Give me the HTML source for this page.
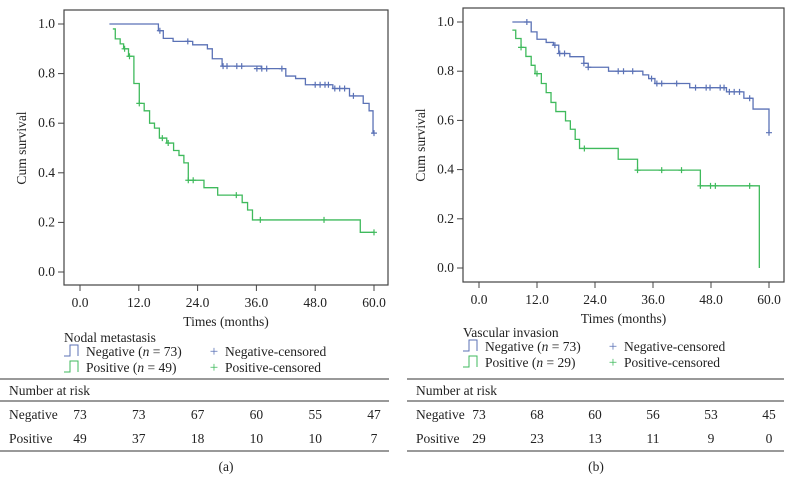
<!DOCTYPE html>
<html><head><meta charset="utf-8"><style>
body{margin:0;background:#fff}
svg{display:block;font-family:"Liberation Serif",serif}
text{fill:#222;font-size:13.5px}
</style></head><body>
<svg id="svg" width="793" height="495" viewBox="0 0 793 495">
<g id="ga"></g>
<g id="gb"></g>
</svg>
<script>
// Panel (a) data
const aNegSteps=[[6,1.0],[16,0.973],[17,0.942],[19,0.93],[23,0.916],[26,0.90],[27,0.86],[29,0.83],[37,0.82],[42,0.79],[44,0.78],[46,0.755],[51.6,0.74],[55,0.71],[57.8,0.68],[59,0.65],[59.8,0.56]];
const aNegCens=[[16.3,0.973],[22,0.93],[29.2,0.83],[30,0.83],[32,0.83],[33,0.83],[36.1,0.82],[37.1,0.82],[38.1,0.82],[41.2,0.82],[48,0.755],[49,0.755],[50,0.755],[50.7,0.755],[52,0.74],[53,0.74],[54,0.74],[55.8,0.71],[60,0.56]];
const aPosSteps=[[6.7,0.98],[7.2,0.94],[8.2,0.92],[8.9,0.90],[9.9,0.87],[11,0.76],[12.1,0.68],[13.1,0.65],[14.2,0.60],[15.2,0.58],[16.2,0.54],[17.7,0.52],[19.1,0.49],[20.2,0.47],[21.2,0.44],[22.1,0.37],[25.3,0.34],[28.1,0.31],[33.1,0.28],[34.2,0.25],[35.2,0.21],[57.2,0.16]];
const aPosCens=[[9.1,0.90],[10.1,0.87],[12.1,0.68],[16.8,0.54],[18,0.52],[22.1,0.37],[23.1,0.37],[31.9,0.31],[36.8,0.21],[49.8,0.21],[60,0.16]];
const aRiskNeg=[73,73,67,60,55,47];
const aRiskPos=[49,37,18,10,10,7];
// Panel (b) data
const bNegSteps=[[6.9,1.0],[10.8,0.96],[12,0.93],[13.9,0.917],[15.4,0.906],[16.5,0.872],[18.8,0.859],[21.7,0.832],[22.6,0.816],[26.8,0.80],[33.9,0.785],[35.1,0.77],[36.4,0.75],[43.6,0.733],[51.2,0.716],[54.8,0.69],[56.7,0.646],[60,0.55]];
const bNegCens=[[9.9,1.0],[15.7,0.906],[16.7,0.872],[17.7,0.872],[21.7,0.832],[22.6,0.816],[28.8,0.80],[29.9,0.80],[31.8,0.80],[35.7,0.77],[36.8,0.75],[37.8,0.75],[40.9,0.75],[44.8,0.733],[47,0.733],[47.8,0.733],[49.9,0.733],[50.7,0.733],[51.8,0.716],[52.8,0.716],[53.9,0.716],[56,0.69],[60,0.55]];
const bPosSteps=[[6.9,0.967],[7.6,0.933],[8.7,0.897],[9.7,0.86],[10.8,0.824],[11.6,0.79],[12.9,0.75],[13.9,0.713],[14.9,0.673],[15.9,0.636],[17.9,0.598],[18.9,0.564],[19.9,0.523],[20.8,0.486],[28.8,0.442],[32.8,0.398],[45.8,0.334],[58,0.0]];
const bPosCens=[[8.7,0.897],[12,0.79],[21.8,0.486],[32.8,0.398],[37.8,0.398],[41.9,0.398],[45.8,0.334],[47.9,0.334],[48.9,0.334],[56,0.334]];
const bRiskNeg=[73,68,60,56,53,45];
const bRiskPos=[29,23,13,11,9,0];
const xTicks=[0,12,24,36,48,60];
const xTickLabels=["0.0","12.0","24.0","36.0","48.0","60.0"];
const yTicks=[0,0.2,0.4,0.6,0.8,1.0];
const yTickLabels=["0.0","0.2","0.4","0.6","0.8","1.0"];

const NS="http://www.w3.org/2000/svg";
const BLUE="#5b72b6",GREEN="#3fba5c";
function mk(p,tag,attrs,txt){const e=document.createElementNS(NS,tag);for(const k in attrs)e.setAttribute(k,attrs[k]);if(txt!==undefined)e.textContent=txt;p.appendChild(e);return e;}

function panel(g,P){
  const X=t=>P.x0+(P.x60-P.x0)*t/60, Y=s=>P.y0+(P.y1-P.y0)*s;
  let e;
  e=mk(g,'rect',{x:P.L,y:P.T,width:P.R-P.L,height:P.B-P.T,fill:'none',stroke:'#444','stroke-width':1.2});
  
  
  yTicks.forEach((v,i)=>{
    e=mk(g,'line',{x1:P.L-6,x2:P.L,y1:Y(v),y2:Y(v),stroke:'#444'});
    
    
    e=mk(g,'text',{x:P.L-9,y:Y(v)+4,'text-anchor':'end'},yTickLabels[i]);
    
    
  });
  xTicks.forEach((v,i)=>{
    e=mk(g,'line',{x1:X(v),x2:X(v),y1:P.B,y2:P.B+6,stroke:'#444'});
    
    
    e=mk(g,'text',{x:X(v),y:P.B+22,'text-anchor':'middle'},xTickLabels[i]);
    
    
  });
  e=mk(g,'text',{x:0,y:0,'text-anchor':'middle',transform:`translate(${P.yl+4},${(Y(0)+Y(1))/2}) rotate(-90)`},'Cum survival');
  
  
  e=mk(g,'text',{x:(P.L+P.R)/2,y:P.B+41,'text-anchor':'middle'},'Times (months)');
  
  
  function curve(steps,cens,col,name){
    let d=`M${X(steps[0][0])},${Y(steps[0][1])}`;
    for(let i=1;i<steps.length;i++){d+=`H${X(steps[i][0])}V${Y(steps[i][1])}`;}
    const endT=cens.length?Math.max(cens[cens.length-1][0],steps[steps.length-1][0]):60;
    d+=`H${X(endT)}`;
    let c=mk(g,'path',{d:d,fill:'none',stroke:col,'stroke-width':1.3});
    
    
    cens.forEach(p=>{
      let m=mk(g,'path',{d:`M${X(p[0])-3},${Y(p[1])}h6M${X(p[0])},${Y(p[1])-3}v6`,stroke:col,'stroke-width':1.2});
      
      
    });
  }
  curve(P.negS,P.negC,BLUE,'negative');
  curve(P.posS,P.posC,GREEN,'positive');
  const lx=P.L, ly=P.legY;
  e=mk(g,'text',{x:lx,y:ly},P.title);
  
  
  [[BLUE,`Negative (`,P.nNeg,'negative'],[GREEN,`Positive (`,P.nPos,'positive']].forEach((r,i)=>{
    const yy=ly+14+i*16;
    let ic=mk(g,'path',{d:`M${lx},${yy}h6v-11h8v11`,fill:'none',stroke:r[0],'stroke-width':1});
    
    
    let t=mk(g,'text',{x:lx+22,y:yy});
    
    
    t.appendChild(document.createTextNode(r[1]));
    mk(t,'tspan',{'font-style':'italic'},'n');
    t.appendChild(document.createTextNode(` = ${r[2]})`));
    let pl=mk(g,'text',{x:lx+150,y:yy,'text-anchor':'middle',style:`fill:${r[0]};font-size:15px`},'+');
    
    
    let t2=mk(g,'text',{x:lx+161,y:yy},(i?'Positive':'Negative')+'-censored');
    
    
  });
  [379,401,451].forEach(y=>{
    e=mk(g,'line',{x1:P.tL,x2:P.tR,y1:y,y2:y,stroke:'#333','stroke-width':1});
    
    
  });
  e=mk(g,'text',{x:P.tL+9,y:395},'Number at risk');
  
  
  [['Negative',P.rN,419],['Positive',P.rP,443]].forEach(r=>{
    e=mk(g,'text',{x:P.tL+9,y:r[2]},r[0]);
    
    
    r[1].forEach((v,i)=>{
      e=mk(g,'text',{x:X(xTicks[i]),y:r[2],'text-anchor':'middle'},String(v));
      
      
    });
  });
  e=mk(g,'text',{x:P.capX,y:471,'text-anchor':'middle'},P.cap);
  
  
}
panel(document.getElementById('ga'),{L:64,R:388,T:10,B:285,x0:80,x60:374,y0:272,y1:24,yl:22,legY:342,
 title:'Nodal metastasis',nNeg:73,nPos:49,negS:aNegSteps,negC:aNegCens,posS:aPosSteps,posC:aPosCens,
 rN:aRiskNeg,rP:aRiskPos,tL:0,tR:389,cap:'(a)',capX:226});
panel(document.getElementById('gb'),{L:463,R:784,T:8,B:282,x0:479,x60:769,y0:268,y1:22,yl:421,legY:337,
 title:'Vascular invasion',nNeg:73,nPos:29,negS:bNegSteps,negC:bNegCens,posS:bPosSteps,posC:bPosCens,
 rN:bRiskNeg,rP:bRiskPos,tL:407,tR:784,cap:'(b)',capX:596});
</script>
</body></html>
